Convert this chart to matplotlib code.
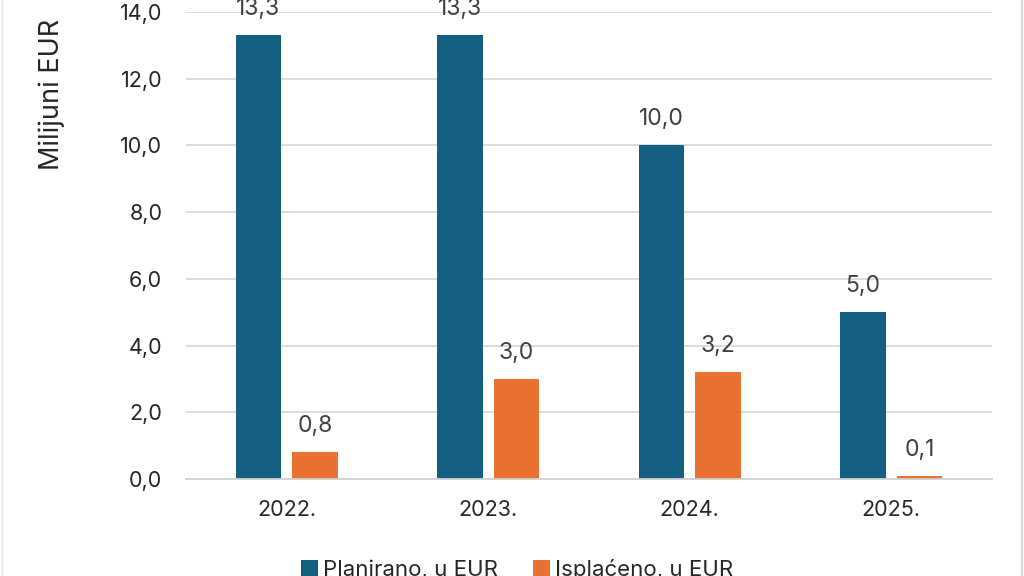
import matplotlib.pyplot as plt
from matplotlib.lines import Line2D
import numpy as np

plt.rcParams['font.family'] = ['Inter', 'DejaVu Sans']

years = ["2022.", "2023.", "2024.", "2025."]
planirano = [13.3, 13.3, 10.0, 5.0]
isplaceno = [0.8, 3.0, 3.2, 0.1]
yticks = [0, 2, 4, 6, 8, 10, 12, 14]

blue = "#156082"
orange = "#E97132"

fig = plt.figure(figsize=(10.24, 5.76), dpi=100)
ax = fig.add_axes([0.1816, 0.1684, 0.787, 0.8106])

x = np.arange(len(years))
w = 0.225
b1 = ax.bar(x - 0.14, planirano, w, color=blue, label="Planirano, u EUR")
b2 = ax.bar(x + 0.14, isplaceno, w, color=orange, label="Isplaćeno, u EUR")

# oznake vrijednosti iznad stupaca
for bars in (b1, b2):
    for r in bars:
        v = r.get_height()
        ax.annotate(f"{v:.1f}".replace(".", ","), (r.get_x() + r.get_width() / 2, v),
                    xytext=(0, 20), textcoords="offset pixels", ha="center", va="baseline",
                    fontsize=16.5, color="#404040", annotation_clip=False)

ax.set_xlim(-0.5, 3.5)
ax.set_ylim(0, 14)
ax.set_yticks(yticks)
ax.set_yticklabels([f"{t:.1f}".replace(".", ",") for t in yticks])
ax.set_xticks(x)
ax.set_xticklabels(years)
ax.tick_params(axis="y", length=0, pad=17, labelsize=15.5, labelcolor="#262626")
ax.tick_params(axis="x", length=0, pad=15, labelsize=15.5, labelcolor="#262626")
ax.grid(axis="y", color="#d9d9d9", lw=1.3)
ax.set_axisbelow(True)
for s in ["top", "right", "left"]:
    ax.spines[s].set_visible(False)
ax.spines["bottom"].set_color("#d0d0d0")
ax.spines["bottom"].set_linewidth(1.3)

fig.text(0.051, 0.836, "Milijuni EUR", rotation=90, ha="center", va="center",
         fontsize=19.5, color="#262626")

fig.legend(handles=[b1, b2], loc="center", bbox_to_anchor=(0.505, 0.011),
           ncol=2, frameon=False, fontsize=16, handlelength=0.77, handleheight=0.77,
           handletextpad=0.2, columnspacing=1.6, labelcolor="#262626")

fig.add_artist(Line2D([0.998, 0.998], [0, 1], transform=fig.transFigure, color="#d9d9d9", lw=1.5))
fig.add_artist(Line2D([0.002, 0.002], [0, 1], transform=fig.transFigure, color="#e6e6e6", lw=1.0))

fig.savefig("out.png", dpi=100, facecolor="white")
